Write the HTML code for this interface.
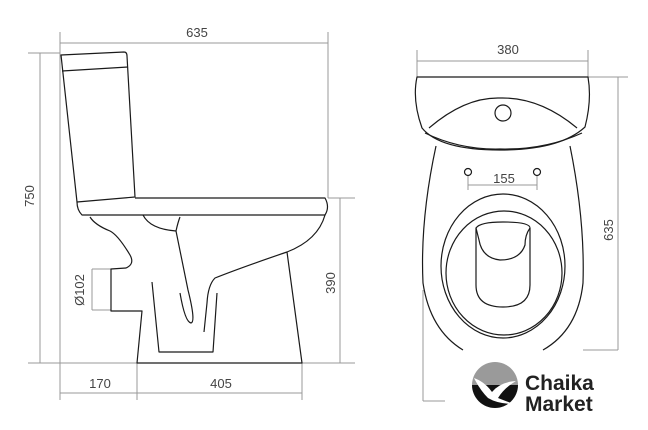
<!DOCTYPE html>
<html><head><meta charset="utf-8"><style>
html,body{margin:0;padding:0;background:#fff;width:648px;height:430px;overflow:hidden}
svg{display:block}
</style></head><body>
<svg width="648" height="430" viewBox="0 0 648 430" xmlns="http://www.w3.org/2000/svg">
<g stroke="#999" stroke-width="1" fill="none">
<line x1="60" y1="32" x2="60" y2="400"/>
<line x1="328" y1="32" x2="328" y2="198"/>
<line x1="60" y1="43" x2="328" y2="43"/>
<line x1="28" y1="53" x2="60" y2="53"/>
<line x1="40" y1="53" x2="40" y2="363"/>
<line x1="28" y1="363" x2="137" y2="363"/>
<line x1="302" y1="363" x2="355" y2="363"/>
<line x1="328" y1="198" x2="355" y2="198"/>
<line x1="340" y1="198" x2="340" y2="363"/>
<line x1="60" y1="393" x2="302" y2="393"/>
<line x1="137" y1="363" x2="137" y2="400"/>
<line x1="302" y1="363" x2="302" y2="400"/>
<line x1="92" y1="269" x2="111" y2="269"/>
<line x1="92" y1="310" x2="111" y2="310"/>
<line x1="92" y1="269" x2="92" y2="310"/>
<line x1="417" y1="50" x2="417" y2="77"/>
<line x1="588" y1="50" x2="588" y2="77"/>
<line x1="417" y1="61" x2="588" y2="61"/>
<line x1="588" y1="77" x2="628" y2="77"/>
<line x1="618" y1="77" x2="618" y2="350"/>
<line x1="583" y1="350" x2="618" y2="350"/>
<line x1="423" y1="290" x2="423" y2="401"/>
<line x1="423" y1="401" x2="445" y2="401"/>
<line x1="468" y1="185" x2="537" y2="185"/>
<line x1="468" y1="176" x2="468" y2="190"/>
<line x1="537" y1="176" x2="537" y2="190"/>
</g>
<g font-family="Liberation Sans, sans-serif" font-size="13" fill="#444" text-anchor="middle">
<text x="197" y="37">635</text>
<text x="100" y="388">170</text>
<text x="221" y="388">405</text>
<text x="508" y="54">380</text>
<text x="504" y="183">155</text>
<text transform="translate(34,196) rotate(-90)">750</text>
<text transform="translate(335,283) rotate(-90)">390</text>
<text transform="translate(84,290) rotate(-90)">Ø102</text>
<text transform="translate(613,230) rotate(-90)">635</text>
</g>
<g stroke="#1a1a1a" stroke-width="1.2" fill="none" stroke-linejoin="round">
<!-- tank -->
<path d="M61,55 L124,52 Q127,52 127,56 L135,197 L77,202 Z"/>
<line x1="62" y1="71" x2="128" y2="67"/>
<!-- seat -->
<path d="M135,198 L325,198 Q330,207 325,215 L82,215 Q77,210 77,202"/>
<!-- bowl -->
<path d="M325,215 Q318,240 287,252 Q240,268 215,278 Q208,285 207,303 L204,332"/>
<path d="M287,252 L302,363 L137,363 L142,311 L111,311 L111,269 L126,268 Q135,264 130,255 Q118,235 110,231 Q95,225 90,217"/>
<path d="M143,215 Q150,229 176,231 Q178,222 180,217"/>
<path d="M176,231 L188,290 Q196,322 191,323 Q185,322 180,293"/>
<path d="M152,282 L159,352 L213,352 L217,293"/>
<!-- top view tank -->
<path d="M417,77 L588,77 Q592,100 585,127 Q560,150 500,150 Q440,150 422,128 Q412,100 417,77 Z"/>
<path d="M429,128 Q465,97 500,98 Q540,97 577,128"/>
<path d="M425,133 Q460,150 500,149 Q545,150 582,133"/>
<circle cx="503" cy="113" r="8"/>
<!-- bowl top view -->
<path d="M436,146 Q420,220 423,283 Q430,330 463,350"/>
<path d="M570,146 Q585,220 583,283 Q578,330 543,350"/>
<circle cx="468" cy="172" r="3.5"/>
<circle cx="537" cy="172" r="3.5"/>
<ellipse cx="503" cy="266" rx="62" ry="72"/>
<ellipse cx="504" cy="273" rx="58" ry="62"/>
<path d="M476,228 L476,285 Q476,307 503,307 Q530,307 530,285 L530,228"/>
<path d="M476,228 Q480,222 503,222 Q530,222 530,228 Q525,235 525,245 Q520,260 500,260 Q482,258 479,240 Z"/>
</g>
<!-- logo -->
<path d="M472,385 A23,23 0 0 1 518,385 Z" fill="#9a9a9a"/>
<path d="M472,385 A23,23 0 0 0 518,385 Z" fill="#111"/>
<path d="M474,378 Q485,382 492,392 Q500,382 516,381 Q504,388 498,398 Q508,402 514,404 Q498,404 488,398 Q480,390 474,378 Z" fill="#fff"/>
<g font-family="Liberation Sans, sans-serif" font-size="21" fill="#222" font-weight="bold">
<text x="525" y="390">Chaika</text>
<text x="525" y="411">Market</text>
</g>
</svg>
</body></html>
